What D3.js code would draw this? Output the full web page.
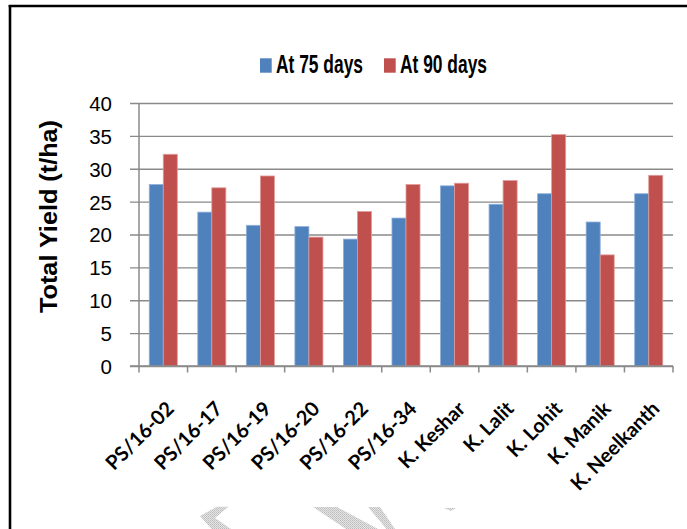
<!DOCTYPE html>
<html>
<head>
<meta charset="utf-8">
<script src="https://cdn.jsdelivr.net/npm/d3@7"></script>
<style>
  html, body { margin: 0; padding: 0; background: #fff; }
  svg { display: block; }
</style>
</head>
<body>
<svg id="chart" width="687" height="529"></svg>
<script>
// Total yield of genotypes harvested at two stages (t/ha)
const categories = ["PS/16-02", "PS/16-17", "PS/16-19", "PS/16-20", "PS/16-22", "PS/16-34",
                    "K. Keshar", "K. Lalit", "K. Lohit", "K. Manik", "K. Neelkanth"];
const seriesNames = ["At 75 days", "At 90 days"];
const at75days = [27.6, 23.4, 21.4, 21.2, 19.3, 22.5, 27.4, 24.6, 26.2, 21.9, 26.2];
const at90days = [32.2, 27.1, 28.9, 19.6, 23.5, 27.6, 27.8, 28.2, 35.2, 16.9, 29.0];
const yTicks = [0, 5, 10, 15, 20, 25, 30, 35, 40];
const yTitle = "Total Yield (t/ha)";

const colors = ["#4F81BD", "#C0504D"];
const edges = ["#8fb0d9", "#e09b99"];
const seriesValues = [at75days, at90days];

const svg = d3.select("#chart");

const plot = { left: 139, right: 673, top: 103, bottom: 366 };

const x0 = d3.scaleBand().domain(categories).range([plot.left, plot.right]).padding(0);
const x1 = d3.scaleBand().domain(seriesNames).range([0, x0.bandwidth()])
  .paddingInner(0).paddingOuter(0.73);
const y = d3.scaleLinear().domain([0, 40]).range([plot.bottom, plot.top]);

// watermark fragments along the bottom edge
const defs = svg.append("defs");
const pat = defs.append("pattern").attr("id", "dots")
  .attr("width", 2).attr("height", 2).attr("patternUnits", "userSpaceOnUse");
pat.append("rect").attr("width", 2).attr("height", 2).attr("fill", "#e4e4e4");
pat.append("rect").attr("width", 1).attr("height", 1).attr("fill", "#bcbcbc");
pat.append("rect").attr("x", 1).attr("y", 1).attr("width", 1).attr("height", 1).attr("fill", "#c8c8c8");

const wm = svg.append("g").attr("fill", "url(#dots)");
wm.append("polygon").attr("points", "216.7,506.7 228.5,506.7 215,518 231,529 211.5,529 200,516");
wm.append("polygon").attr("points", "313,507 337,507 378,529 346,529");
wm.append("polygon").attr("points", "368,507 380,507 395,529 386.5,529");
wm.append("polygon").attr("points", "444,508 456,508 451,511");

// frame lines
svg.append("line").attr("x1", 10).attr("x2", 10).attr("y1", 5).attr("y2", 529)
  .attr("stroke", "#000").attr("stroke-width", 2.6);
svg.append("line").attr("x1", 8.7).attr("x2", 687).attr("y1", 6).attr("y2", 6)
  .attr("stroke", "#000").attr("stroke-width", 2.4);

// horizontal gridlines + y axis
const yAxis = d3.axisLeft(y).tickValues(yTicks).tickSize(plot.right - plot.left + 9)
  .tickPadding(0).tickFormat(d3.format("d"));
const gy = svg.append("g").attr("transform", `translate(${plot.right},0)`).call(yAxis);
gy.select(".domain").remove();
gy.selectAll(".tick line").attr("stroke", "#8a8a8a").attr("stroke-width", 1.4);
gy.selectAll(".tick text")
  .attr("x", 112 - plot.right)
  .attr("dy", "0.36em")
  .attr("fill", "#000")
  .style("font-family", "'Liberation Sans', Arial, sans-serif")
  .style("font-size", "20.5px");

svg.append("line").attr("x1", plot.left).attr("x2", plot.left)
  .attr("y1", plot.top).attr("y2", plot.bottom)
  .attr("stroke", "#8a8a8a").attr("stroke-width", 1.5);

// bars
const groups = svg.append("g").selectAll("g").data(categories).join("g")
  .attr("transform", d => `translate(${x0(d)},0)`);
groups.selectAll("rect")
  .data((c, i) => seriesNames.map((s, k) => ({ s, k, v: seriesValues[k][i] })))
  .join("rect")
  .attr("x", d => x1(d.s))
  .attr("y", d => y(d.v))
  .attr("width", x1.bandwidth())
  .attr("height", d => y(0) - y(d.v))
  .attr("fill", d => colors[d.k])
  .attr("stroke", d => edges[d.k])
  .attr("stroke-width", 0.8);

// x axis with category boundary ticks
const xAxisLine = svg.append("g");
xAxisLine.append("line").attr("x1", plot.left - 9).attr("x2", plot.right)
  .attr("y1", plot.bottom).attr("y2", plot.bottom)
  .attr("stroke", "#8a8a8a").attr("stroke-width", 1.5);
const bounds = categories.map(c => x0(c)).concat([plot.right]);
xAxisLine.selectAll("line.tk").data(bounds).join("line").attr("class", "tk")
  .attr("x1", d => d).attr("x2", d => d)
  .attr("y1", plot.bottom).attr("y2", plot.bottom + 6.5)
  .attr("stroke", "#8a8a8a").attr("stroke-width", 1.5);

// rotated category labels
svg.append("g").selectAll("text").data(categories).join("text")
  .attr("transform", d => `translate(${x0(d) + x0.bandwidth() / 2 + 12},410) rotate(-45)`)
  .attr("text-anchor", "end")
  .attr("fill", "#000")
  .style("font-family", "Lato, 'Liberation Sans', sans-serif")
  .style("font-weight", "bold")
  .style("font-size", "20px")
  .text(d => d);

// y axis title
svg.append("text")
  .attr("transform", "translate(57,216.5) rotate(-90)")
  .attr("text-anchor", "middle")
  .attr("textLength", 193)
  .attr("lengthAdjust", "spacingAndGlyphs")
  .attr("fill", "#000")
  .style("font-family", "'Liberation Sans', Arial, sans-serif")
  .style("font-weight", "bold")
  .style("font-size", "23px")
  .text(yTitle);

// legend
const legendX = [260, 384];
const legend = svg.append("g").selectAll("g").data(seriesNames).join("g")
  .attr("transform", (d, i) => `translate(${legendX[i]},0)`);
legend.append("rect").attr("x", 0).attr("y", 58.3).attr("width", 11.7).attr("height", 14.4)
  .attr("fill", (d, i) => colors[i]);
legend.append("text")
  .attr("x", 16).attr("y", 72.7)
  .attr("textLength", 87)
  .attr("lengthAdjust", "spacingAndGlyphs")
  .attr("fill", "#000")
  .style("font-family", "'Liberation Sans Narrow', 'Liberation Sans', Arial, sans-serif")
  .style("font-weight", "bold")
  .style("font-size", "26px")
  .text(d => d);
</script>
</body>
</html>
